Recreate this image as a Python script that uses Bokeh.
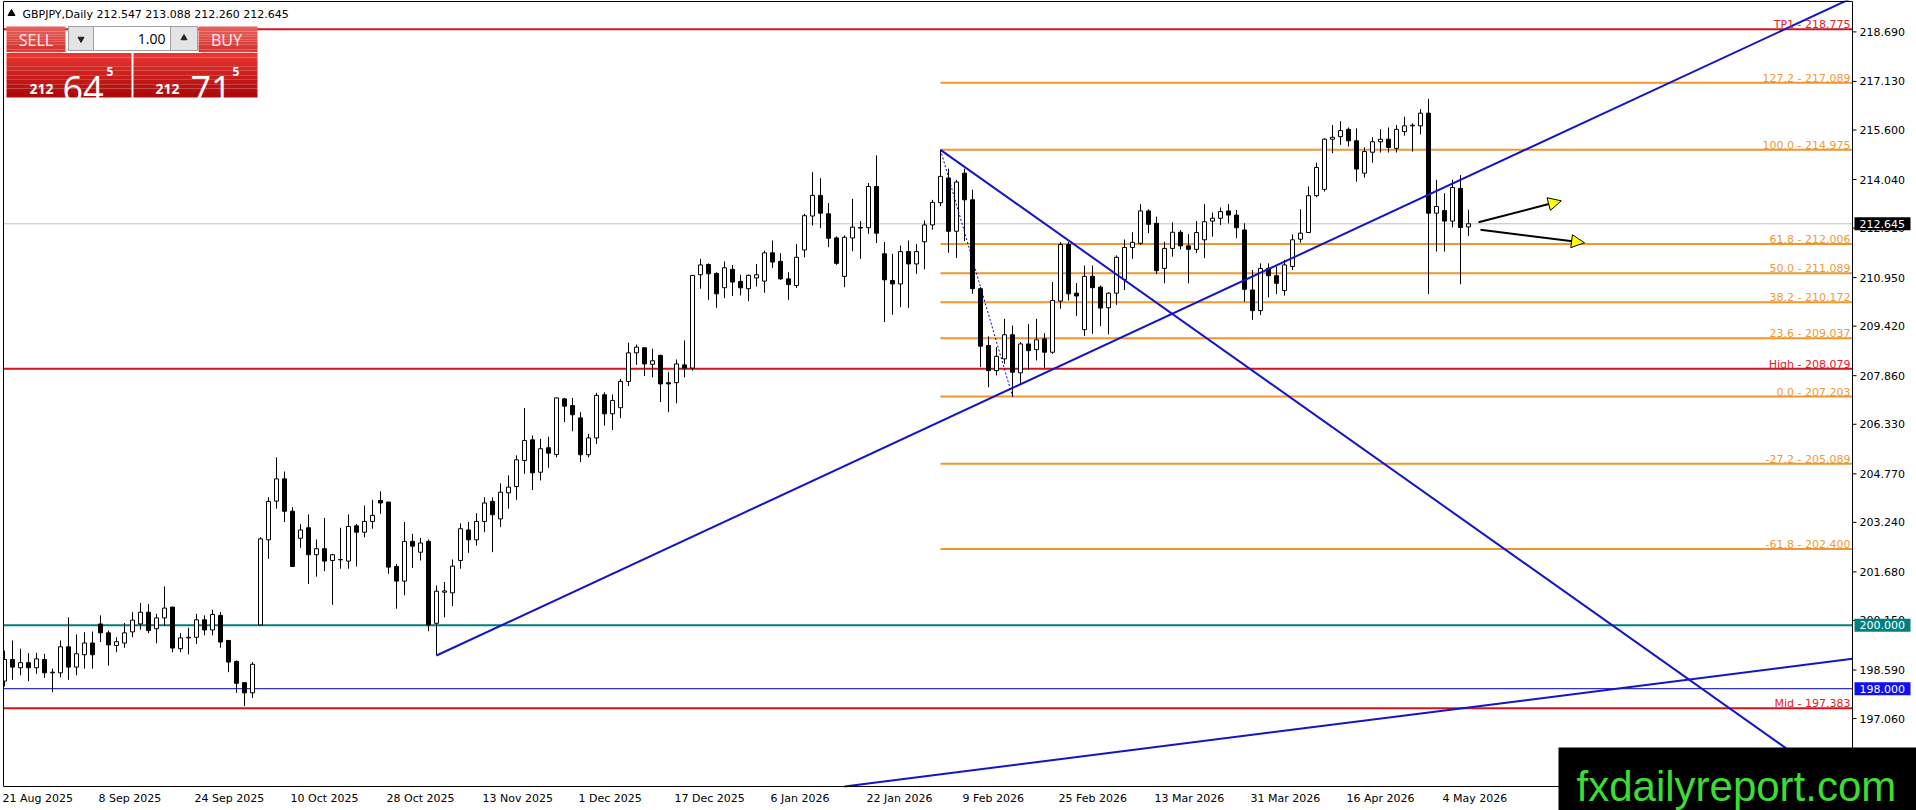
from bokeh.plotting import figure
from bokeh.models import Range1d, ColumnDataSource, Arrow, NormalHead
from bokeh.core.properties import value
from bokeh.embed import file_html
from bokeh.resources import INLINE

# ---------------- data ----------------
symbol_header = "GBPJPY,Daily  212.547 213.088 212.260 212.645"

opens = [198.24, 198.92, 198.66, 198.82, 198.66, 198.92, 198.50, 198.50, 199.32, 198.68,
         199.07, 199.44, 200.04, 199.76, 199.36, 199.44, 199.79, 200.04, 200.41, 199.89,
         200.23, 200.57, 199.26, 199.60, 199.62, 200.17, 199.85, 200.31, 199.52, 198.86,
         198.19, 197.87, 200.01, 202.69, 203.91, 204.61, 203.59, 202.74, 203.07, 202.22,
         202.41, 202.04, 202.06, 202.02, 203.13, 202.93, 203.27, 203.93, 203.88, 201.85,
         201.39, 202.64, 202.30, 202.64, 200.06, 201.04, 201.02, 202.04, 203.00, 202.69,
         203.27, 203.90, 203.35, 204.17, 204.37, 205.19, 205.84, 204.82, 205.59, 205.38,
         207.13, 206.92, 206.53, 205.37, 205.90, 207.26, 206.66, 206.85, 207.68, 208.58,
         208.74, 208.22, 208.50, 207.64, 207.64, 208.20, 208.10, 211.04, 211.36, 211.08,
         210.63, 211.21, 210.83, 210.60, 210.94, 210.84, 211.73, 211.46, 210.91, 210.70,
         211.82, 212.89, 213.54, 212.96, 212.20, 210.99, 212.20, 212.51, 212.52, 213.82,
         211.70, 210.86, 210.75, 211.77, 211.38, 212.08, 212.61, 213.31, 214.09, 212.41,
         214.24, 213.40, 210.60, 208.81, 208.02, 208.39, 209.15, 207.95, 208.86, 208.68,
         209.02, 208.60, 210.21, 211.99, 210.46, 209.31, 210.99, 210.65, 210.00, 210.46,
         210.89, 211.90, 212.03, 213.05, 212.66, 211.24, 211.87, 212.38, 211.95, 211.84,
         212.14, 212.73, 212.82, 213.05, 212.92, 212.45, 210.56, 209.91, 211.24, 211.01,
         210.54, 211.30, 212.16, 212.37, 213.53, 213.73, 215.31, 215.39, 215.62, 215.26,
         214.24, 214.90, 215.23, 215.31, 215.02, 215.55, 215.73, 215.73, 216.13, 212.98,
         213.06, 212.73, 213.76, 212.547]
highs = [199.20, 199.52, 199.26, 199.12, 199.13, 199.10, 198.63, 199.52, 200.25, 199.71,
         199.78, 199.80, 200.31, 199.83, 199.62, 200.07, 200.41, 200.70, 200.67, 200.36,
         201.22, 200.58, 199.75, 199.92, 200.36, 200.31, 200.49, 200.41, 199.53, 198.89,
         198.19, 198.84, 202.77, 204.03, 205.29, 204.84, 203.72, 203.19, 203.49, 202.70,
         203.38, 202.25, 203.07, 203.49, 203.19, 203.77, 203.95, 204.22, 203.88, 201.93,
         203.25, 202.88, 202.75, 202.70, 201.25, 201.36, 202.07, 203.21, 203.25, 203.53,
         204.03, 204.03, 204.47, 204.72, 205.35, 206.84, 205.98, 205.87, 205.94, 207.17,
         207.16, 207.16, 206.71, 206.03, 207.32, 207.34, 207.27, 207.76, 208.90, 208.84,
         208.75, 208.71, 208.52, 207.97, 208.37, 208.97, 211.02, 211.54, 211.40, 211.12,
         211.46, 211.35, 211.04, 211.05, 211.38, 211.80, 212.12, 211.72, 211.12, 212.01,
         212.96, 214.27, 214.08, 213.30, 212.25, 212.28, 213.43, 212.73, 213.93, 214.80,
         212.07, 211.70, 211.96, 212.12, 212.01, 212.75, 213.40, 214.975, 214.38, 214.03,
         214.38, 213.72, 210.65, 209.10, 208.76, 209.65, 209.44, 208.92, 209.49, 209.65,
         209.20, 210.81, 212.07, 212.07, 210.78, 211.33, 211.33, 210.70, 210.49, 211.65,
         212.15, 212.38, 213.27, 213.10, 212.87, 212.08, 212.69, 212.45, 212.32, 212.73,
         213.27, 213.00, 213.16, 213.27, 213.08, 212.66, 211.19, 211.40, 211.40, 211.30,
         211.51, 212.31, 213.10, 213.82, 214.57, 215.34, 215.76, 215.88, 215.68, 215.65,
         215.05, 215.37, 215.63, 215.68, 215.76, 216.02, 215.81, 216.26, 216.58, 214.03,
         213.61, 214.03, 214.18, 213.088]
lows = [198.07, 198.28, 198.42, 198.24, 198.47, 198.34, 197.89, 198.36, 198.28, 198.42,
        198.63, 198.63, 199.47, 198.73, 199.15, 199.29, 199.62, 199.86, 199.75, 199.43,
        199.99, 199.15, 199.15, 199.08, 199.41, 199.68, 199.68, 199.29, 198.52, 197.87,
        197.45, 197.71, 200.00, 202.09, 203.67, 203.25, 201.84, 202.44, 201.30, 201.53,
        201.70, 200.64, 201.78, 201.78, 201.85, 202.77, 203.04, 203.51, 201.62, 200.52,
        200.94, 201.80, 202.04, 199.81, 199.05, 200.25, 200.60, 201.78, 202.28, 202.51,
        202.93, 202.30, 203.09, 203.67, 203.95, 204.77, 204.26, 204.56, 204.96, 205.29,
        206.40, 206.11, 205.14, 205.29, 205.71, 206.29, 206.15, 206.52, 207.53, 208.20,
        207.85, 207.81, 207.03, 206.71, 206.99, 207.81, 208.02, 210.60, 210.25, 210.00,
        210.30, 210.37, 210.39, 210.21, 210.67, 210.47, 211.25, 210.88, 210.25, 210.62,
        211.59, 212.59, 212.51, 211.91, 211.35, 210.65, 211.78, 211.54, 212.33, 212.04,
        209.55, 209.78, 210.02, 209.99, 211.07, 211.21, 212.46, 213.20, 211.73, 211.57,
        212.10, 210.44, 208.13, 207.50, 207.87, 208.23, 207.203, 207.60, 208.05, 208.34,
        208.10, 208.55, 209.97, 210.23, 209.74, 209.11, 209.18, 209.42, 209.16, 210.09,
        210.56, 211.54, 211.98, 212.35, 211.06, 210.77, 211.61, 211.84, 210.77, 211.72,
        211.56, 212.24, 212.61, 212.66, 212.19, 210.19, 209.62, 209.77, 210.33, 210.43,
        210.38, 211.19, 212.05, 212.35, 213.48, 213.66, 214.87, 215.13, 215.08, 213.97,
        214.10, 214.57, 214.89, 214.89, 214.89, 215.42, 214.92, 215.46, 210.43, 211.77,
        211.77, 212.53, 210.74, 212.260]
closes = [198.92, 198.68, 198.82, 198.66, 198.94, 198.50, 198.52, 199.32, 198.68, 199.10,
          199.44, 199.07, 199.76, 199.38, 199.48, 199.76, 200.16, 200.41, 199.83, 200.23,
          200.54, 199.28, 199.60, 199.62, 200.17, 199.85, 200.34, 199.47, 198.84, 198.17,
          197.87, 198.77, 202.72, 203.90, 204.61, 203.59, 201.85, 203.00, 202.22, 202.41,
          202.02, 202.22, 202.07, 203.11, 202.93, 203.27, 203.46, 203.85, 201.83, 201.39,
          202.64, 202.49, 202.59, 200.01, 201.07, 201.08, 201.86, 203.04, 202.69, 203.27,
          203.85, 203.48, 204.19, 204.35, 205.21, 205.82, 204.80, 205.56, 205.42, 207.16,
          206.90, 206.63, 205.37, 205.90, 207.24, 206.66, 207.08, 207.68, 208.58, 208.76,
          208.23, 208.33, 207.60, 207.60, 208.23, 208.10, 211.02, 211.35, 211.07, 210.44,
          211.26, 210.81, 210.63, 211.02, 211.04, 211.73, 211.44, 210.91, 210.73, 211.59,
          212.90, 213.54, 212.98, 212.19, 211.40, 212.22, 212.54, 212.53, 213.82, 212.35,
          210.88, 210.75, 211.77, 211.38, 211.77, 212.61, 213.32, 214.14, 212.41, 213.96,
          213.40, 210.60, 208.79, 208.02, 208.47, 209.15, 207.97, 208.86, 208.65, 208.99,
          208.60, 210.23, 211.99, 210.44, 210.37, 210.99, 210.63, 209.99, 210.46, 211.59,
          211.90, 212.06, 213.05, 212.63, 211.17, 211.87, 212.38, 211.95, 211.84, 212.37,
          212.71, 212.82, 213.03, 212.92, 212.52, 210.58, 209.91, 211.24, 211.01, 210.77,
          211.35, 212.14, 212.35, 213.53, 214.42, 215.31, 215.37, 215.58, 215.26, 214.37,
          214.92, 215.23, 215.31, 215.05, 215.62, 215.73, 215.75, 216.13, 212.98, 213.19,
          212.73, 213.79, 212.53, 212.645]

date_tick_idx = [0, 12, 24, 36, 48, 60, 72, 84, 96, 108, 120, 132, 144, 156, 168, 180]
date_labels = ["21 Aug 2025", "8 Sep 2025", "24 Sep 2025", "10 Oct 2025", "28 Oct 2025",
               "13 Nov 2025", "1 Dec 2025", "17 Dec 2025", "6 Jan 2026", "22 Jan 2026",
               "9 Feb 2026", "25 Feb 2026", "13 Mar 2026", "31 Mar 2026", "16 Apr 2026",
               "4 May 2026"]
price_ticks = [218.690, 217.130, 215.600, 214.040, 212.510, 210.950, 209.420, 207.860,
               206.330, 204.770, 203.240, 201.680, 200.150, 198.590, 197.060, 195.500]

fib_ratios = [127.2, 100.0, 61.8, 50.0, 38.2, 23.6, 0.0, -27.2, -61.8]
fib_prices = [217.089, 214.975, 212.006, 211.089, 210.172, 209.037, 207.203, 205.089, 202.400]
fib_start_idx = 117          # fib anchor: swing high candle
fib_end_idx = 126            # swing low candle

tp1_level = 218.775
high_level = 208.079
mid_level = 197.383
level_200 = 200.000
level_198 = 198.000
last_price = 212.645

# trend lines: two points each (bar index, price)
up_trend_x = [54, 174.5]
up_trend_y = [199.045, 213.15]
down_trend_x = [117, 208.66]
down_trend_y = [214.975, 198.627]
long_trend_x = [105.0, 231.0]
long_trend_y = [194.92, 198.94]

# projection arrows (bar index, price)
arrow_x0 = [184.25, 184.5]
arrow_y0 = [212.695, 212.456]
arrow_x1 = [194.6, 197.5]
arrow_y1 = [213.369, 212.046]

sell_price = ("212", "64", "5")
buy_price = ("212", "71", "5")
lot_size = "1.00"

# ---------------- layout (page pixels -> data) ----------------
CANVAS_W, CANVAS_H = 1916, 810
PX_PER_BAR = 8.0
PX_PER_UNIT = 31.745
BAR0_PX = 4.0                     # page x of bar 0
REF_PRICE, REF_PY = 218.775, 28.7  # calibration: price at page y


def X(px):
    return (px - BAR0_PX) / PX_PER_BAR


def Y(py):
    return REF_PRICE - (py - REF_PY) / PX_PER_UNIT


X_LEFT, X_RIGHT = X(0), X(CANVAS_W)
Y_TOP, Y_BOT = Y(0), Y(CANVAS_H)
CH_L = X(3)         # chart area left border
CH_T = Y(1)         # chart area top border
CH_R = X(1852)      # chart area right edge (price axis line)
CH_B = Y(786)       # chart area bottom edge (time axis line)
LABEL_LIFT = 4.5 / PX_PER_UNIT   # level captions sit just above their line

p = figure(frame_width=CANVAS_W, frame_height=CANVAS_H,
           x_range=Range1d(X_LEFT, X_RIGHT), y_range=Range1d(Y_BOT, Y_TOP),
           x_axis_location=None, y_axis_location=None,
           output_backend="svg", toolbar_location=None,
           min_border=0, min_border_left=0, min_border_right=0,
           min_border_top=0, min_border_bottom=0,
           background_fill_color="white", border_fill_color="white")
p.outline_line_color = None
p.grid.grid_line_color = None

FONT = "DejaVu Sans"
ORANGE = "#F0962E"
ORANGE_TXT = "#EE9A36"
RED = "#D7141C"
BLUE = "#1414C8"

# full-width horizontal lines (under candles)
h_levels = [last_price, tp1_level, high_level, mid_level, level_200, level_198]
h_colors = ["#C0C0C0", RED, RED, RED, "#008080", "#0000CD"]
h_widths = [1, 2, 2, 2, 2, 1]
p.segment(x0=[CH_L] * 6, y0=h_levels, x1=[CH_R] * 6, y1=h_levels,
          line_color=h_colors, line_width=h_widths)

# fibonacci levels
p.segment(x0=[fib_start_idx] * len(fib_prices), y0=fib_prices,
          x1=[CH_R] * len(fib_prices), y1=fib_prices, line_color=ORANGE, line_width=2)

# candles
idx = list(range(len(opens)))
tops = [max(o, c) for o, c in zip(opens, closes)]
bots = [min(o, c) for o, c in zip(opens, closes)]
fills = ["white" if c >= o else "black" for o, c in zip(opens, closes)]
src = ColumnDataSource(dict(x=idx, o=opens, h=highs, l=lows, c=closes,
                            top=tops, bot=bots, fill=fills))
p.segment(x0="x", y0="l", x1="x", y1="h", source=src, line_color="black", line_width=1)
p.vbar(x="x", width=0.5, top="top", bottom="bot", fill_color="fill",
       line_color="black", line_width=1, source=src)
# mask anything left of the chart border
p.quad(left=[X_LEFT], right=[CH_L], top=[Y_TOP], bottom=[Y_BOT], fill_color="white",
       line_color=None)


def line_through(xs, ys, x_from, x_to, y_min=None):
    slope = (ys[1] - ys[0]) / (xs[1] - xs[0])
    ya = ys[0] + slope * (x_from - xs[0])
    yb = ys[0] + slope * (x_to - xs[0])
    if y_min is not None and yb < y_min:
        x_to = xs[0] + (y_min - ys[0]) / slope
        yb = y_min
    return [x_from, x_to], [ya, yb]


for lx, ly in [line_through(up_trend_x, up_trend_y, up_trend_x[0], CH_R),
               line_through(down_trend_x, down_trend_y, down_trend_x[0], CH_R, CH_B),
               line_through(long_trend_x, long_trend_y, long_trend_x[0], CH_R)]:
    p.line(lx, ly, line_color=BLUE, line_width=2)

# fib anchor dotted line
p.line([fib_start_idx, fib_end_idx], [fib_prices[1], fib_prices[6]],
       line_color="#0000A0", line_width=1, line_dash="2 2")

# arrows
for x0, y0, x1, y1 in zip(arrow_x0, arrow_y0, arrow_x1, arrow_y1):
    p.add_layout(Arrow(end=NormalHead(size=13, fill_color="#FFFF00", line_color="black",
                                      line_width=1),
                       x_start=x0, y_start=y0, x_end=x1, y_end=y1,
                       line_color="black", line_width=2))

# level labels (right-aligned at chart edge, just above each line)
lab_x = X(1850)
fib_txt = [f"{r:.1f} - {v:.3f}" for r, v in zip(fib_ratios, fib_prices)]
p.text(x=[lab_x] * len(fib_prices), y=[v + LABEL_LIFT for v in fib_prices], text=fib_txt,
       text_align="right", text_baseline="alphabetic", text_font=value(FONT),
       text_font_size="11px", text_color=ORANGE_TXT)
red_lv = [tp1_level, high_level, mid_level]
red_txt = [f"TP1 - {tp1_level:.3f}", f"High - {high_level:.3f}", f"Mid - {mid_level:.3f}"]
p.text(x=[lab_x] * 3, y=[v + LABEL_LIFT for v in red_lv], text=red_txt, text_align="right",
       text_baseline="alphabetic", text_font=value(FONT),
       text_font_size="11px", text_color="#E0202A")

# chart frame: left, top, right (price axis), bottom (time axis)
p.segment(x0=[CH_L, CH_L, CH_R, CH_L], y0=[CH_T, CH_T, CH_T, CH_B],
          x1=[CH_L, CH_R, CH_R, CH_R], y1=[CH_B, CH_T, CH_B, CH_B],
          line_color="black", line_width=1)

# price axis ticks and labels
p.segment(x0=[CH_R] * len(price_ticks), y0=price_ticks,
          x1=[X(1856)] * len(price_ticks), y1=price_ticks, line_color="black", line_width=1)
p.text(x=[X(1859)] * len(price_ticks), y=price_ticks,
       text=[f"{v:.3f}" for v in price_ticks], text_align="left", text_baseline="middle",
       text_font=value(FONT), text_font_size="11px", text_color="black")

# price boxes on the axis
box_lv = [last_price, level_200, level_198]
box_bg = ["black", "#008080", "#1010F0"]
p.quad(left=[X(1854)] * 3, right=[X(1910)] * 3,
       top=[v + 6.5 / PX_PER_UNIT for v in box_lv],
       bottom=[v - 6.5 / PX_PER_UNIT for v in box_lv],
       fill_color=box_bg, line_color=None)
p.text(x=[X(1859)] * 3, y=box_lv, text=[f"{v:.3f}" for v in box_lv], text_align="left",
       text_baseline="middle", text_font=value(FONT), text_font_size="11px",
       text_color="white")

# date labels under the time axis
p.text(x=date_tick_idx, y=[Y(798)] * len(date_tick_idx), text=date_labels,
       text_align="left", text_baseline="middle", x_offset=-2, text_font=value(FONT),
       text_font_size="11px", text_color="black")

# header
p.scatter([X(11)], [Y(13)], marker="triangle", size=7, fill_color="black", line_color="black")
p.text(x=[X(22)], y=[Y(13.5)], text=[symbol_header], text_baseline="middle",
       text_font=value(FONT), text_font_size="11px", text_color="black")


# trade panel
def grad_box(x0, x1, y0, y1, c_top, c_bot, n=10):
    def hx(c):
        return [int(c[i:i + 2], 16) for i in (1, 3, 5)]
    a, b = hx(c_top), hx(c_bot)
    L, R, T, B, C = [], [], [], [], []
    for k in range(n):
        f = k / (n - 1)
        col = "#%02x%02x%02x" % tuple(int(a[j] + (b[j] - a[j]) * f) for j in range(3))
        ya = y0 + (y1 - y0) * k / n
        yb = y0 + (y1 - y0) * (k + 1) / n
        L.append(X(x0)); R.append(X(x1)); T.append(Y(ya)); B.append(Y(yb)); C.append(col)
    p.quad(left=L, right=R, top=T, bottom=B, fill_color=C, line_color=None)


grad_box(6, 65, 26, 51.5, "#E9605B", "#D4322E")
grad_box(198, 257, 26, 51.5, "#E9605B", "#D4322E")
grad_box(6, 131, 52.5, 97, "#E83530", "#AE0A0A")
grad_box(133, 257, 52.5, 97, "#E83530", "#AE0A0A")
p.segment(x0=[X(10), X(201)], y0=[Y(51.7)] * 2, x1=[X(62), X(254)], y1=[Y(51.7)] * 2,
          line_color="#F4A0A0", line_width=1)
# lot box
p.quad(left=[X(68)], right=[X(197)], top=[Y(26)], bottom=[Y(50)], fill_color="white",
       line_color="#A0A0A0")
p.quad(left=[X(68), X(170)], right=[X(93), X(197)], top=[Y(26)] * 2, bottom=[Y(50)] * 2,
       fill_color="#E4E4E4", line_color="#A0A0A0")
p.scatter([X(80.5)], [Y(38.5)], marker="inverted_triangle", size=6, fill_color="#222222",
          line_color="#222222")
p.scatter([X(183.5)], [Y(37.5)], marker="triangle", size=6, fill_color="#222222",
          line_color="#222222")
p.text(x=[X(165)], y=[Y(38)], text=[lot_size], text_align="right", text_baseline="middle",
       text_font=value("Open Sans"), text_font_size="14px", text_color="black")
p.text(x=[X(35.5), X(226)], y=[Y(39)] * 2, text=["SELL", "BUY"], text_align="center",
       text_baseline="middle", text_font=value("Open Sans"), text_font_size="16px",
       text_color="#FFECEC")
for (big0, big1, sup), xs in [(sell_price, (29, 62, 106)), (buy_price, (155, 190, 232))]:
    p.text(x=[X(xs[0])], y=[Y(88)], text=[big0], text_baseline="alphabetic",
           text_font=value("Open Sans"), text_font_size="14px", text_font_style="bold",
           text_color="white")
    p.text(x=[X(xs[1])], y=[Y(88)], text=[big1], text_baseline="alphabetic",
           text_font=value("Open Sans"), text_font_size="36px", text_color="white")
    p.text(x=[X(xs[2])], y=[Y(71)], text=[sup], text_baseline="alphabetic",
           text_font=value("Open Sans"), text_font_size="12px", text_font_style="bold",
           text_color="white")

# watermark
p.quad(left=[X(1558)], right=[X(1920)], top=[Y(747)], bottom=[Y(815)],
       fill_color="black", line_color=None)
p.text(x=[X(1576)], y=[Y(786)], text=["fxdailyreport.com"], text_align="left",
       text_baseline="alphabetic", text_font=value("Liberation Sans"),
       text_font_size="42px", text_color="#3CDC32")

open("out.html", "w").write(file_html(p, INLINE))
